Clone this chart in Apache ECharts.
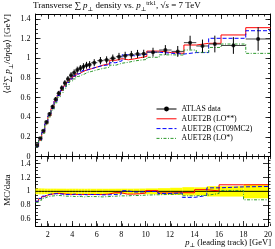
<!DOCTYPE html>
<html><head><meta charset="utf-8">
<script src="https://cdn.jsdelivr.net/npm/echarts@6/dist/echarts.min.js"></script>
<style>html,body{margin:0;padding:0;background:#fff}#c{width:275px;height:249px}</style>
</head><body><div id="c"></div>
<script>
// ---- data ----
const binEdges = [1.0,1.25,1.5,1.75,2.0,2.25,2.5,2.75,3.0,3.25,3.5,3.75,4.0,4.25,4.5,4.75,5.0,5.25,5.5,
                  6.0,6.5,7.0,7.5,8.0,8.5,9.0,9.5,10,11,12,13,14,15,16,18,20];
const dataY = [0.119,0.187,0.264,0.353,0.434,0.508,0.583,0.644,0.698,0.749,0.790,0.827,0.854,0.881,0.898,0.915,0.929,0.935,
               0.955,0.976,0.983,1.000,1.016,1.026,1.035,1.044,1.045,1.062,1.084,1.070,1.159,1.125,1.145,1.130,1.196];
const dataErr = [0.005,0.008,0.011,0.014,0.017,0.020,0.023,0.025,0.027,0.029,0.030,0.032,0.033,0.034,0.034,0.035,0.035,0.036,
                 0.036,0.037,0.037,0.038,0.039,0.040,0.040,0.041,0.042,0.045,0.050,0.055,0.070,0.065,0.085,0.085,0.120];
const mcLO2 = [0.102,0.167,0.244,0.334,0.414,0.490,0.566,0.625,0.674,0.719,0.758,0.790,0.816,0.841,0.858,0.874,0.887,0.893,
               0.912,0.932,0.944,0.980,0.996,0.985,0.994,1.007,1.019,1.073,1.058,1.050,1.135,1.152,1.152,1.237,1.311];
const mcCT09 = [0.102,0.168,0.246,0.335,0.417,0.490,0.563,0.621,0.670,0.715,0.754,0.790,0.820,0.841,0.853,0.874,0.883,0.893,
                0.912,0.927,0.934,0.955,0.975,1.036,1.025,1.034,1.040,1.062,1.051,1.043,1.058,1.058,1.203,1.203,1.280];
const mcLO1 = [0.100,0.163,0.238,0.325,0.404,0.475,0.548,0.605,0.653,0.697,0.735,0.769,0.790,0.815,0.831,0.842,0.859,0.865,
               0.883,0.898,0.909,0.930,0.950,0.959,0.973,0.981,0.988,1.010,1.035,1.033,1.084,1.060,1.110,1.145,1.050];
const seriesNames = ['ATLAS data','AUET2B (LO**)','AUET2B (CT09MC2)','AUET2B (LO*)'];
const xTickLabels = [2,4,6,8,10,12,14,16,18,20];
const yTickLabels = [0,0.2,0.4,0.6,0.8,1,1.2,1.4];
const rTickLabels = [0.6,0.8,1,1.2,1.4];

// ---- layout / style ----
const FONT = '"Liberation Serif","DejaVu Serif",serif';
const GL = 35.5, GW = 235, T0 = 14, H0 = 142.7, T1 = 156.7, H1 = 69.3;
function seq(a, b, s) { const r = []; for (let v = a; v <= b + 1e-9; v += s) r.push(+v.toFixed(4)); return r; }
const xMinor = seq(1, 20, 0.5);
const yMinor = seq(0, 1.4, 0.05);
const rMinor = seq(0.55, 1.45, 0.05);

function steps(vals) { const o = []; vals.forEach((v, i) => { o.push([binEdges[i], v], [binEdges[i+1], v]); }); return o; }
function ratio(vals) { return vals.map((v, i) => v / dataY[i]); }

function xAx(grid, pos, ticks, len, line, labels) {
  return { type:'value', gridIndex:grid, position:pos, min:1, max:20,
    axisLine:{show:line, onZero:false, lineStyle:{color:'#000', width:1}},
    axisTick:{show:true, inside:true, length:len, customValues:ticks, lineStyle:{color:'#000', width:0.8}},
    axisLabel: labels ? {show:true, customValues:labels, fontFamily:FONT, fontSize:8, color:'#000', margin:5} : {show:false},
    splitLine:{show:false} };
}
function yAx(grid, pos, min, max, ticks, len, line, labels) {
  return { type:'value', gridIndex:grid, position:pos, min:min, max:max,
    axisLine:{show:line, onZero:false, lineStyle:{color:'#000', width:1}},
    axisTick:{show:true, inside:true, length:len, customValues:ticks, lineStyle:{color:'#000', width:0.8}},
    axisLabel: labels ? {show:true, customValues:labels, fontFamily:FONT, fontSize:8, color:'#000', margin:5} : {show:false},
    splitLine:{show:false} };
}

const centers = dataY.map((v, i) => (binEdges[i] + binEdges[i+1]) / 2);
const errItems = dataY.map((v, i) => [binEdges[i], binEdges[i+1], v, dataErr[i]]);
const bandItems = dataY.map((v, i) => [binEdges[i], binEdges[i+1], 1, dataErr[i] / v]);

const colRed = '#ff0000', colBlue = '#0000ff', colGreen = '#2e9a2e';
const mcStyles = [
  {color:colRed, width:1, type:'solid'},
  {color:colBlue, width:1, type:[4,2]},
  {color:colGreen, width:1, type:[3,1.5,1,1.5]}
];
const mcVals = [mcLO2, mcCT09, mcLO1];

const series = [];
series.push({ type:'line', name:seriesNames[0], xAxisIndex:0, yAxisIndex:0, data:[], symbol:'circle', symbolSize:4,
  itemStyle:{color:'#000'}, lineStyle:{color:'#000', width:1} });
mcVals.forEach((vals, k) => {
  series.push({ type:'line', name:seriesNames[k+1], xAxisIndex:0, yAxisIndex:0, data:steps(vals), symbol:'none',
    lineStyle:mcStyles[k], itemStyle:{color:mcStyles[k].color}, z:3, animation:false });
});
series.push({ type:'custom', name:'dataErr', xAxisIndex:0, yAxisIndex:0, data:errItems, z:5,
  encode:{x:[0,1], y:2},
  renderItem: function (params, api) {
    const lo = api.value(0), hi = api.value(1), y = api.value(2), e = api.value(3), c = (lo + hi) / 2;
    const a = api.coord([lo, y]), b = api.coord([hi, y]), t = api.coord([c, y + e]), d = api.coord([c, y - e]);
    return { type:'group', children:[
      { type:'line', shape:{x1:a[0], y1:a[1], x2:b[0], y2:b[1]}, style:{stroke:'#444', lineWidth:1} },
      { type:'line', shape:{x1:t[0], y1:t[1], x2:d[0], y2:d[1]}, style:{stroke:'#000', lineWidth:1} } ] };
  } });
series.push({ type:'scatter', name:'dataPts', xAxisIndex:0, yAxisIndex:0, data:centers.map((c, i) => [c, dataY[i]]),
  symbol:'circle', symbolSize:4, itemStyle:{color:'#000'}, z:6 });

// ratio panel
series.push({ type:'custom', name:'band', xAxisIndex:4, yAxisIndex:4, data:bandItems, z:1,
  encode:{x:[0,1], y:2},
  renderItem: function (params, api) {
    const lo = api.value(0), hi = api.value(1), m = api.value(2), e = api.value(3);
    const p1 = api.coord([lo, m + e]), p2 = api.coord([hi, m - e]);
    return { type:'rect', shape:{x:p1[0], y:p1[1], width:p2[0]-p1[0], height:p2[1]-p1[1]}, style:{fill:'#ffff00'} };
  } });
series.push({ type:'line', name:'unity', xAxisIndex:4, yAxisIndex:4, data:steps(dataY.map(() => 1)), symbol:'none',
  lineStyle:{color:'#000', width:1}, z:2, animation:false });
mcVals.forEach((vals, k) => {
  series.push({ type:'line', name:seriesNames[k+1], xAxisIndex:4, yAxisIndex:4, data:steps(ratio(vals)), symbol:'none',
    lineStyle:mcStyles[k], itemStyle:{color:mcStyles[k].color}, z:3, animation:false });
});

const option = {
  animation:false,
  grid:[
    {left:GL, top:T0, width:GW, height:H0},
    {left:GL, top:T0, width:GW, height:H0},
    {left:GL, top:T1, width:GW, height:H1},
    {left:GL, top:T1, width:GW, height:H1}
  ],
  xAxis:[
    xAx(0,'bottom',xTickLabels,5,true,null), xAx(0,'top',xTickLabels,5,true,null),
    xAx(1,'bottom',xMinor,2.5,false,null), xAx(1,'top',xMinor,2.5,false,null),
    xAx(2,'bottom',xTickLabels,5,true,xTickLabels), xAx(2,'top',xTickLabels,5,true,null),
    xAx(3,'bottom',xMinor,2.5,false,null), xAx(3,'top',xMinor,2.5,false,null)
  ],
  yAxis:[
    yAx(0,'left',0,1.45,yTickLabels,5,true,yTickLabels), yAx(0,'right',0,1.45,yTickLabels,5,true,null),
    yAx(1,'left',0,1.45,yMinor,2.5,false,null), yAx(1,'right',0,1.45,yMinor,2.5,false,null),
    yAx(2,'left',0.5,1.5,rTickLabels,5,true,rTickLabels), yAx(2,'right',0.5,1.5,rTickLabels,5,true,null),
    yAx(3,'left',0.5,1.5,rMinor,2.5,false,null), yAx(3,'right',0.5,1.5,rMinor,2.5,false,null)
  ],
  legend:{
    orient:'vertical', left:151, top:100, itemWidth:20, itemHeight:6, itemGap:1.8, selectedMode:false,
    lineStyle:{width:1}, itemStyle:{borderWidth:0},
    textStyle:{fontFamily:FONT, fontSize:7.8, color:'#000', lineHeight:8},
    data:[
      {name:seriesNames[0]},
      {name:seriesNames[1], itemStyle:{color:'rgba(0,0,0,0)', borderWidth:0}},
      {name:seriesNames[2], itemStyle:{color:'rgba(0,0,0,0)', borderWidth:0}},
      {name:seriesNames[3], itemStyle:{color:'rgba(0,0,0,0)', borderWidth:0}}
    ]
  },
  graphic:[
    { type:'text', left:33, top:0, style:{ text:'Transverse ∑ {i|p}{sub|⊥} density vs. {i|p}{sub|⊥}{sup|trk1}, √{i|s} = 7 TeV',
      font:'9px ' + FONT, fill:'#000', lineHeight:12,
      rich:{ i:{fontStyle:'italic', fontSize:9, fontFamily:FONT, lineHeight:12},
             sub:{fontSize:6, fontFamily:FONT, verticalAlign:'bottom', lineHeight:10},
             sup:{fontSize:6, fontFamily:FONT, verticalAlign:'top', lineHeight:10} } } },
    { type:'text', x:8, y:14, rotation:Math.PI/2,
      style:{ text:'⟨d{sup|2}∑ {i|p}{sub|⊥}/d{i|η}d{i|φ}⟩ [GeV]', font:'9px ' + FONT, fill:'#000',
        align:'right', verticalAlign:'middle', lineHeight:12,
        rich:{ i:{fontStyle:'italic', fontSize:9, fontFamily:FONT, lineHeight:12},
               sub:{fontSize:6, fontFamily:FONT, verticalAlign:'bottom', lineHeight:10},
               sup:{fontSize:6, fontFamily:FONT, verticalAlign:'top', lineHeight:10} } } },
    { type:'text', x:8, y:190, rotation:Math.PI/2,
      style:{ text:'MC/data', font:'9px ' + FONT, fill:'#000', align:'center', verticalAlign:'middle' } },
    { type:'text', x:271, y:243, style:{ text:'{i|p}{sub|⊥} (leading track) [GeV]', font:'8.5px ' + FONT, fill:'#000',
      align:'right', verticalAlign:'middle', lineHeight:11,
      rich:{ i:{fontStyle:'italic', fontSize:8.5, fontFamily:FONT, lineHeight:11},
             sub:{fontSize:6, fontFamily:FONT, verticalAlign:'bottom', lineHeight:9} } } }
  ],
  series: series
};
const chart = echarts.init(document.getElementById('c'));
chart.setOption(option);
</script></body></html>
